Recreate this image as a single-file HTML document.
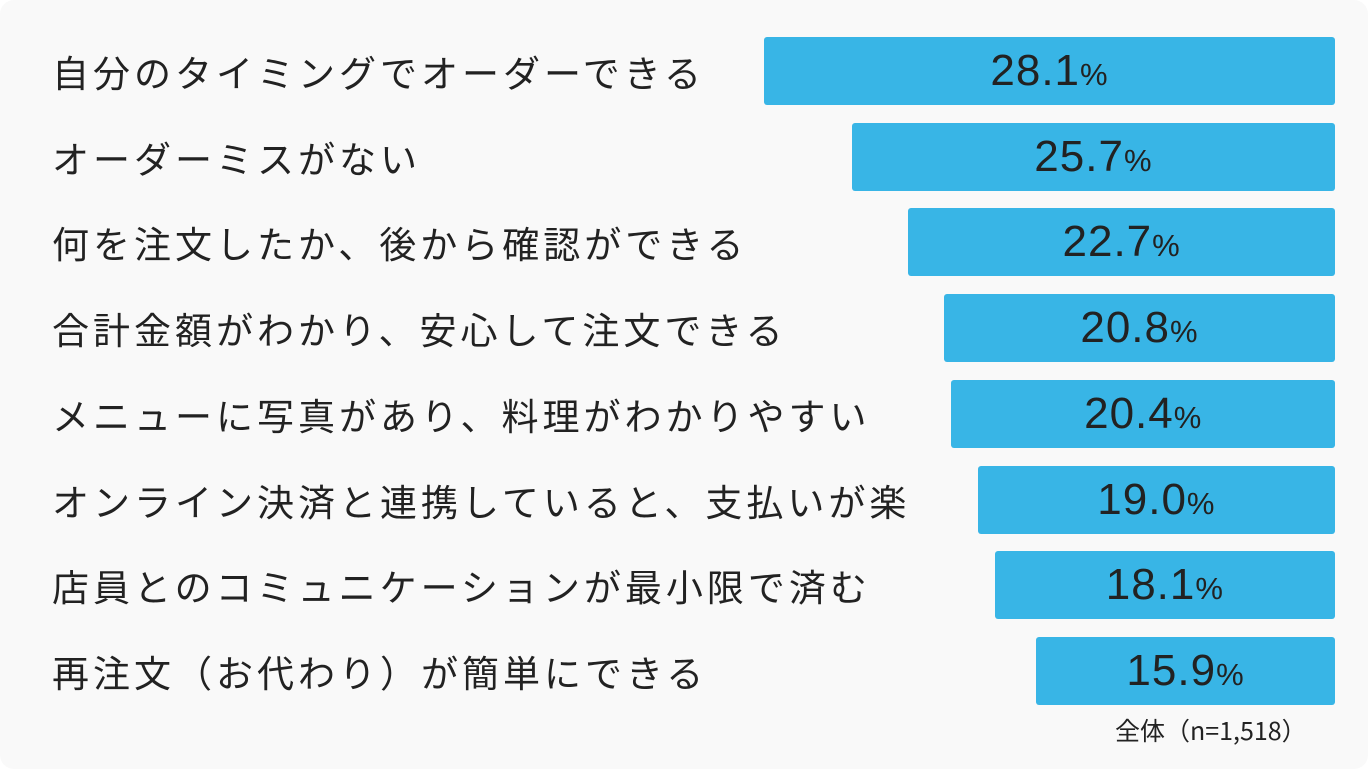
<!DOCTYPE html>
<html><head><meta charset="utf-8"><style>
html,body{margin:0;padding:0;background:#fff;}
#card{position:absolute;left:0;top:0;width:1368px;height:769px;background:#f9f9f9;border-radius:14px;overflow:hidden;font-family:"Liberation Sans","Noto Sans CJK JP",sans-serif;color:#222;}
.lbl{position:absolute;left:52px;font-size:37px;letter-spacing:4px;line-height:68px;white-space:nowrap;font-family:"Noto Sans CJK JP","Liberation Sans",sans-serif;}
.bar{position:absolute;background:#38b5e6;border-radius:3px;}
.val{position:absolute;font-size:44px;letter-spacing:1px;line-height:68px;text-align:center;white-space:nowrap;}
.val span{font-size:31px;}
#note{position:absolute;left:1115px;top:712px;font-size:25px;font-family:"Noto Sans CJK JP","Liberation Sans",sans-serif;}
</style></head><body>
<div id="card">
<div id="note">全体（n=1,518）</div>
</div>
<script>
const categories=["自分のタイミングでオーダーできる","オーダーミスがない","何を注文したか、後から確認ができる","合計金額がわかり、安心して注文できる","メニューに写真があり、料理がわかりやすい","オンライン決済と連携していると、支払いが楽","店員とのコミュニケーションが最小限で済む","再注文（お代わり）が簡単にできる"];
const values=[28.1,25.7,22.7,20.8,20.4,19.0,18.1,15.9];
const valueLabels=["28.1","25.7","22.7","20.8","20.4","19.0","18.1","15.9"];
const card=document.getElementById('card');
const right=1335, scale=18.8, top0=37, pitch=85.7, bh=68;
function x(v){return right-v*scale;}
function y(i){return top0+i*pitch;}
categories.forEach((c,i)=>{
  const l=document.createElement('div');l.className='lbl';
  
  
  l.style.top=y(i)+'px';l.textContent=c;card.appendChild(l);
  const b=document.createElement('div');b.className='bar';
  
  
  const x0=i===0?764:x(values[i]);
  b.style.left=x0+'px';b.style.top=y(i)+'px';b.style.width=(right-x0)+'px';b.style.height=bh+'px';
  card.appendChild(b);
  const t=document.createElement('div');t.className='val';
  
  
  t.style.left=x0+'px';t.style.width=(right-x0)+'px';t.style.top=y(i)+'px';
  t.innerHTML=valueLabels[i]+'<span>%</span>';card.appendChild(t);
});
</script>
</body></html>
